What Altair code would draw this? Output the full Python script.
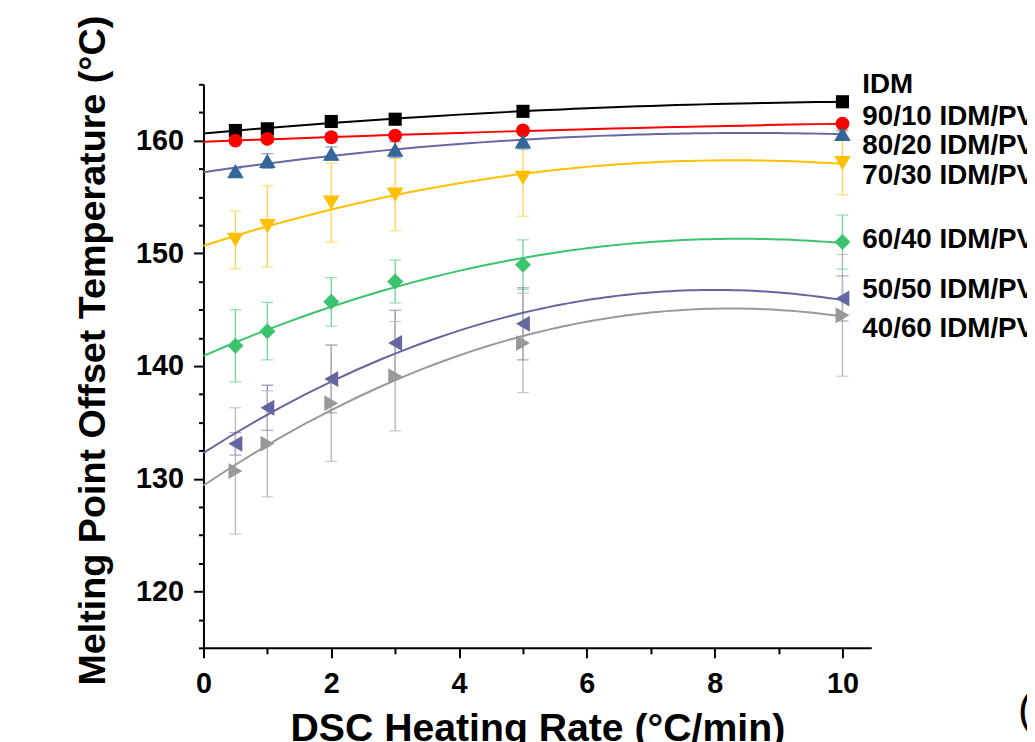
import altair as alt
import pandas as pd

# ---------------- data ----------------
rates = [0.5, 1, 2, 3, 5, 10]

series_names = [
    "IDM",
    "90/10 IDM/PVP",
    "80/20 IDM/PVP",
    "70/30 IDM/PVP",
    "60/40 IDM/PVP",
    "50/50 IDM/PVP",
    "40/60 IDM/PVP",
]

idm_vals = [160.9, 161.05, 161.7, 161.9, 162.6, 163.45]
idm_err = [0.15, 0.15, 0.15, 0.15, 0.15, 0.15]

r90_vals = [160.0, 160.15, 160.3, 160.45, 160.9, 161.5]
r90_err = [0.2, 0.2, 0.25, 0.25, 0.25, 0.25]

r80_vals = [157.3, 158.2, 158.85, 159.2, 159.95, 160.6]
r80_err = [0.2, 0.65, 0.6, 0.7, 0.7, 0.3]

r70_vals = [151.2, 152.4, 154.5, 155.2, 156.7, 158.0]
r70_err = [2.55, 3.6, 3.5, 3.2, 3.4, 2.8]

r60_vals = [141.8, 143.1, 145.7, 147.5, 149.0, 151.0]
r60_err = [3.2, 2.55, 2.15, 1.9, 2.2, 2.4]

r50_vals = [133.1, 136.3, 138.85, 142.05, 143.75, 146.0]
r50_err = [1.0, 2.0, 3.0, 2.9, 3.2, 2.0]

r40_vals = [130.7, 133.1, 136.7, 139.1, 142.05, 144.5]
r40_err = [5.6, 4.7, 5.15, 4.85, 4.4, 5.4]

all_vals = [idm_vals, r90_vals, r80_vals, r70_vals, r60_vals, r50_vals, r40_vals]
all_errs = [idm_err, r90_err, r80_err, r70_err, r60_err, r50_err, r40_err]

# label anchor heights (data units) for the end-of-curve labels
label_y = [164.9, 162.1, 159.55, 156.9, 151.2, 146.7, 143.3]

y_ticks = [115, 117.5, 120, 122.5, 125, 127.5, 130, 132.5, 135, 137.5, 140,
           142.5, 145, 147.5, 150, 152.5, 155, 157.5, 160, 162.5, 165]
x_ticks = [0, 1, 2, 3, 4, 5, 6, 7, 8, 9, 10]

# ---------------- styles ----------------
styles = {
    "IDM":           dict(mc="#000000", lc="#000000", ec="#444444", shape="square",         size=175),
    "90/10 IDM/PVP": dict(mc="#ff0000", lc="#ff0000", ec="#ff6a6a", shape="circle",         size=195),
    "80/20 IDM/PVP": dict(mc="#336699", lc="#6767a3", ec="#5a86b8", shape="triangle-up",    size=280),
    "70/30 IDM/PVP": dict(mc="#ffc000", lc="#ffc000", ec="#ffd24f", shape="triangle-down",  size=280),
    "60/40 IDM/PVP": dict(mc="#3cc36e", lc="#3cc36e", ec="#6fd494", shape="diamond",        size=260),
    "50/50 IDM/PVP": dict(mc="#65659f", lc="#65659f", ec="#8787b8", shape="triangle-left",  size=260),
    "40/60 IDM/PVP": dict(mc="#999999", lc="#999999", ec="#b5b5b5", shape="triangle-right", size=260),
}

rows = []
for name, vals, errs in zip(series_names, all_vals, all_errs):
    st = styles[name]
    for xv, yv, ev in zip(rates, vals, errs):
        rows.append(dict(series=name, x=xv, y=yv, lo=yv - ev, hi=yv + ev,
                         mc=st["mc"], lc=st["lc"], ec=st["ec"],
                         shape=st["shape"], size=st["size"]))
df = pd.DataFrame(rows)
labels_df = pd.DataFrame({"label": series_names, "ly": label_y})
panel_df = pd.DataFrame({"t": ["(a)"]})

FONT = "Liberation Sans"

xscale = alt.Scale(domain=[0, 10.45], nice=False, zero=False)
yscale = alt.Scale(domain=[115, 165], nice=False, zero=False)

xaxis = alt.Axis(
    values=x_ticks, format="d",
    labelExpr="datum.value % 2 === 0 ? datum.label : ''",
    tickSize={"condition": {"test": "datum.value % 2 === 0", "value": 10}, "value": 6},
    labelPadding=12, labelFlush=False,
    title="DSC Heating Rate (°C/min)",
    titleBaseline="alphabetic", titleY=93, titleFontSize=39.5,
)
yaxis = alt.Axis(
    values=y_ticks, format="d",
    labelExpr="datum.value % 10 === 0 ? datum.label : ''",
    tickSize={"condition": {"test": "datum.value % 10 === 0", "value": 10}, "value": 5},
    labelPadding=10, labelFlush=False,
    title="Melting Point Offset Temperature (°C)",
    titleAngle=270, titleBaseline="alphabetic", titleAlign="center",
    titleX=-100, titleY=268, titleFontSize=38,
)


def X(field="x"):
    return alt.X(f"{field}:Q", scale=xscale, axis=xaxis)


def Y(field="y"):
    return alt.Y(f"{field}:Q", scale=yscale, axis=yaxis)


base = alt.Chart(df)

err_rules = base.mark_rule(strokeWidth=1.3).encode(
    x=X(), y=Y("lo"), y2="hi:Q", color=alt.Color("ec:N", scale=None)
)
err_lo = base.mark_tick(orient="horizontal", size=12, thickness=1.3).encode(
    x=X(), y=Y("lo"), color=alt.Color("ec:N", scale=None)
)
err_hi = base.mark_tick(orient="horizontal", size=12, thickness=1.3).encode(
    x=X(), y=Y("hi"), color=alt.Color("ec:N", scale=None)
)

fits = base.transform_regression(
    "x", "y", method="poly", order=2, extent=[0, 10], groupby=["series", "lc"]
).mark_line(strokeWidth=2).encode(
    x=X(), y=Y(), color=alt.Color("lc:N", scale=None), detail="series:N"
)

points = base.mark_point(filled=True, opacity=1, strokeWidth=0).encode(
    x=X(), y=Y(),
    fill=alt.Fill("mc:N", scale=None),
    shape=alt.Shape("shape:N", scale=None),
    size=alt.Size("size:Q", scale=None),
)

labels = alt.Chart(labels_df).mark_text(
    align="left", baseline="middle", fontSize=28, fontWeight="bold",
    font=FONT, color="black"
).encode(x=alt.value(664), y=Y("ly"), text="label:N")

panel = alt.Chart(panel_df).mark_text(
    align="left", baseline="alphabetic", fontSize=44, font=FONT, color="black"
).encode(x=alt.value(821), y=alt.value(645), text="t:N")

chart = alt.layer(err_rules, err_lo, err_hi, fits, points, labels, panel).properties(
    width=673, height=568,
    autosize=alt.AutoSizeParams(type="none"),
    padding={"left": 197, "top": 74, "right": 157, "bottom": 92},
).configure_view(stroke=None).configure_axis(
    grid=False,
    domainColor="black", domainWidth=2,
    tickColor="black", tickWidth=2,
    labelFont=FONT, labelFontSize=29, labelFontWeight="bold", labelColor="black",
    titleFont=FONT, titleFontWeight="bold", titleColor="black",
)

chart.save("out.html", embed_options={"renderer": "svg", "actions": False})
